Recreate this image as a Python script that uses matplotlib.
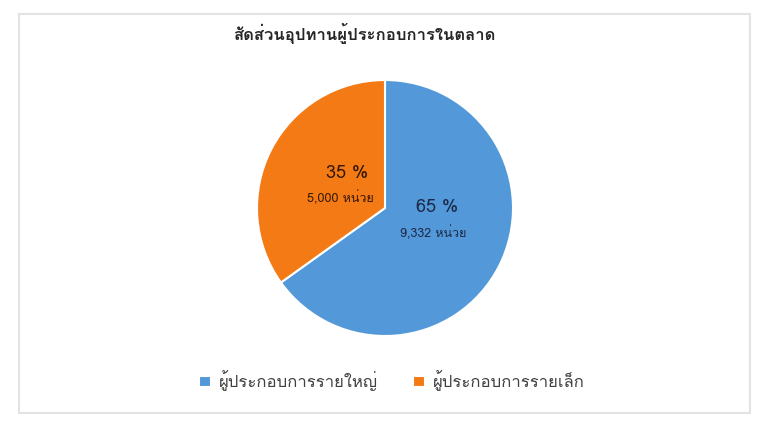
import matplotlib
matplotlib.use("Agg")
import matplotlib.pyplot as plt
from matplotlib import font_manager
from matplotlib.ft2font import FT2Font
from matplotlib.patches import Rectangle

labels = ['ผู้ประกอบการรายใหญ่', 'ผู้ประกอบการรายเล็ก']
units = [9332, 5000]
pct_text = ['65 %', '35 %']
unit_text = ['9,332 หน่วย', '5,000 หน่วย']
colors = ['#5398d8', '#f47a16']
title = 'สัดส่วนอุปทานผู้ประกอบการในตลาด'

# look for an installed font that has Thai glyphs
thai_fams = []
for f in font_manager.fontManager.ttflist:
    try:
        if ord('ส') in FT2Font(f.fname).get_charmap():
            if f.name not in thai_fams:
                thai_fams.append(f.name)
    except Exception:
        continue
plt.rcParams['font.family'] = thai_fams[:1] + ['DejaVu Sans']

fig = plt.figure(figsize=(7.8, 4.33), dpi=100)
fig.patches.append(Rectangle((19 / 780, 1 - 413 / 433), 731 / 780, 399 / 433,
                             transform=fig.transFigure, fill=False,
                             edgecolor='#e3e3e3', linewidth=1.5))

ax = fig.add_axes([257 / 780, 97 / 433, 256 / 780, 256 / 433])
wedges, _ = ax.pie(units, colors=colors, startangle=90, counterclock=False,
                   radius=1, wedgeprops=dict(edgecolor='white', linewidth=1.5))
ax.set_xlim(-1, 1)
ax.set_ylim(-1, 1)
ax.set_aspect('equal')
ax.axis('off')

# value labels (Excel style placement)
ax.text(0.41, 0.01, pct_text[0], ha='center', va='center', fontsize=13, color='#1c2a48')
ax.text(0.375, -0.19, unit_text[0], ha='center', va='center', fontsize=9, color='#1c2a48')
ax.text(-0.30, 0.27, pct_text[1], ha='center', va='center', fontsize=13, color='#331703')
ax.text(-0.35, 0.08, unit_text[1], ha='center', va='center', fontsize=9, color='#331703')

fig.text(364 / 780, 1 - 33 / 433, title, ha='center', va='center',
         fontsize=12, fontweight='bold', color='#262626')

fig.legend(wedges, labels, loc='center', bbox_to_anchor=(392 / 780, 1 - 381 / 433),
           ncol=2, frameon=False, fontsize=12, handlelength=0.7, handleheight=0.7,
           handletextpad=0.5, columnspacing=2.1, labelcolor='#404040')

fig.savefig('out.png', dpi=100)
